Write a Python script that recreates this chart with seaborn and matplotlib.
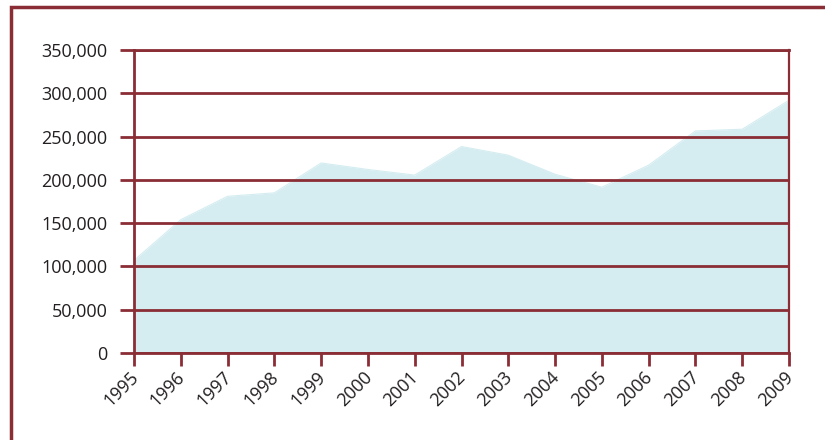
import matplotlib
matplotlib.use("Agg")
import matplotlib.pyplot as plt
from matplotlib.patches import Rectangle
from matplotlib.ticker import FuncFormatter
from matplotlib.transforms import ScaledTranslation
import seaborn as sns
import pandas as pd

years = [1995, 1996, 1997, 1998, 1999, 2000, 2001, 2002, 2003, 2004,
         2005, 2006, 2007, 2008, 2009]
values = [107000, 154000, 181000, 185000, 219500, 212000, 205500, 238500,
          228500, 206500, 191500, 217000, 256500, 258500, 292000]
y_ticks = [0, 50000, 100000, 150000, 200000, 250000, 300000, 350000]

DARK_RED = "#8b2d35"
FILL = "#d5edf1"
TEXT = "#231f20"

sns.set_theme(style="white")
plt.rcParams["font.family"] = ["Open Sans", "DejaVu Sans"]

df = pd.DataFrame({"year": years, "value": values})

fig = plt.figure(figsize=(8.25, 4.4), dpi=100)
ax = fig.add_axes([134 / 825, 1 - 353 / 440, 655 / 825, 303 / 440])

ax.fill_between(df["year"], df["value"], 0, color=FILL, linewidth=0, zorder=1)
sns.lineplot(data=df, x="year", y="value", ax=ax, color=FILL, linewidth=0.8, zorder=1)

ax.set_xlim(years[0], years[-1])
ax.set_ylim(0, 350000)
ax.set_xticks(years)
ax.set_xticklabels([str(y) for y in years], rotation=45, ha="right",
                   rotation_mode="anchor")
ax.set_yticks(y_ticks)
ax.yaxis.set_major_formatter(FuncFormatter(lambda v, _: f"{int(v):,}"))
ax.set_xlabel("")
ax.set_ylabel("")

ax.grid(axis="y", color=DARK_RED, linewidth=2, zorder=2)
ax.grid(axis="x", visible=False)
ax.set_axisbelow(False)

ax.tick_params(axis="y", length=10, width=2, color=DARK_RED, direction="out",
               labelsize=13, labelcolor=TEXT, pad=9, left=True)
ax.tick_params(axis="x", length=9, width=2, color=DARK_RED, direction="out",
               labelsize=13, labelcolor=TEXT, pad=2, bottom=True)

# nudge the rotated year labels slightly left
shift = ScaledTranslation(-5 / 100, 0, fig.dpi_scale_trans)
for lab in ax.get_xticklabels():
    lab.set_transform(lab.get_transform() + shift)

for side in ["left", "right", "top", "bottom"]:
    ax.spines[side].set_visible(True)
    ax.spines[side].set_color(DARK_RED)
    ax.spines[side].set_linewidth(2)
ax.spines["right"].set_linewidth(1.6)

fig.add_artist(Rectangle((11 / 825, -0.5), 2.0, 0.5 + 1 - 7 / 440,
                         transform=fig.transFigure, fill=False,
                         edgecolor=DARK_RED, linewidth=2.5))

fig.savefig("out.png", dpi=100, facecolor="white")
